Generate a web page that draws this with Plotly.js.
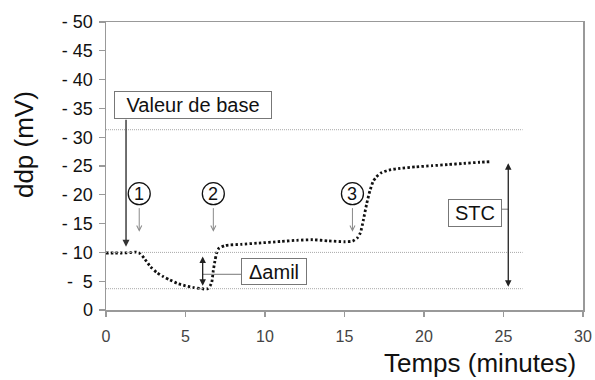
<!DOCTYPE html>
<html>
<head>
<meta charset="utf-8">
<script src="https://cdn.plot.ly/plotly-3.0.1.min.js"></script>
<style>html,body{margin:0;padding:0;background:#fff}#chart{width:595px;height:380px}</style>
</head>
<body>
<div id="chart"></div>
<script>
// ---- data ----
const time = [0, 0.5, 1, 1.5, 1.9, 2.15, 2.4, 2.8, 3.2, 3.6, 4.0, 4.5, 5.0, 5.5, 5.9, 6.15, 6.4, 6.55, 6.65, 6.75, 6.85, 6.95, 7.1, 7.5, 8.5, 9.5, 11, 12, 13, 14, 15, 15.5, 15.8, 16.0, 16.2, 16.4, 16.6, 16.8, 17.0, 17.3, 17.8, 18.5, 19.5, 20.5, 21.5, 22.5, 23.5, 24.2];
const ddp  = [9.9, 9.9, 9.9, 9.95, 10.05, 9.8, 9.0, 7.5, 6.5, 5.8, 5.25, 4.6, 4.2, 3.9, 3.75, 3.65, 3.7, 4.2, 4.8, 6.9, 8.5, 9.8, 10.7, 11.2, 11.4, 11.6, 11.9, 12.1, 12.2, 12.0, 11.85, 11.95, 12.5, 13.4, 15.8, 18.5, 20.7, 22.3, 23.1, 23.8, 24.3, 24.6, 24.85, 25.05, 25.25, 25.45, 25.65, 25.75];
const refLevels = [31.3, 10, 3.7];
const refEnd = 26.2;
const yTickVals = [0, 5, 10, 15, 20, 25, 30, 35, 40, 45, 50];
const yTickText = ['0', '-  5', '- 10', '- 15', '- 20', '- 25', '- 30', '- 35', '- 40', '- 45', '- 50'];
const xTickVals = [0, 5, 10, 15, 20, 25, 30];
const steps = [{label: '1', t: 2.09}, {label: '2', t: 6.75}, {label: '3', t: 15.5}];

const FONT = 'Liberation Sans, Arial, sans-serif';

const trace = {
  x: time, y: ddp, type: 'scatter', mode: 'lines',
  line: {color: '#111', width: 2.8, dash: '2.4px,2.3px', shape: 'spline', smoothing: 0.6},
  hoverinfo: 'skip'
};

const shapes = [];
refLevels.forEach(v => shapes.push({type: 'line', xref: 'x', yref: 'y', x0: 0, x1: refEnd, y0: v, y1: v,
  line: {color: '#a8a8a8', width: 1, dash: '1px,1px'}}));
// circles around step numbers
steps.forEach(s => shapes.push({type: 'circle', xref: 'x', yref: 'y', xsizemode: 'pixel', ysizemode: 'pixel',
  xanchor: s.t, yanchor: 20.2, x0: -11, x1: 11, y0: -11, y1: 11, line: {color: '#111', width: 1.3}}));
// connectors
shapes.push({type: 'line', xref: 'x', yref: 'y', x0: 6.08, x1: 8.53, y0: 6.2, y1: 6.2, line: {color: '#777', width: 1}});
shapes.push({type: 'line', xref: 'x', yref: 'y', x0: 24.89, x1: 25.3, y0: 17.5, y1: 17.5, line: {color: '#777', width: 1}});

const annotations = [];
// titles
annotations.push({xref: 'paper', yref: 'paper', x: 0.9895, y: -0.184, xanchor: 'right', yanchor: 'middle',
  text: 'Temps (minutes)', showarrow: false, font: {family: FONT, size: 26, color: '#111'}});
annotations.push({xref: 'paper', yref: 'paper', x: -0.172, y: 0.576, xanchor: 'center', yanchor: 'middle',
  text: 'ddp (mV)', textangle: -90, showarrow: false, font: {family: FONT, size: 26, color: '#111'}});
// boxes
function box(text, x, y, w, h) {
  return {xref: 'x', yref: 'y', x: x, y: y, xanchor: 'center', yanchor: 'middle', text: text, showarrow: false,
    width: w, height: h, bordercolor: '#777', borderwidth: 1, borderpad: 1, bgcolor: '#fff',
    font: {family: FONT, size: 20, color: '#111'}};
}
annotations.push(box('Valeur de base', 5.49, 35.54, 154, 24));
annotations.push(box('STC', 23.23, 16.9, 50, 24));
annotations.push(box('Δamil', 10.58, 6.74, 62, 23));
// step numbers and gray arrows
steps.forEach(s => {
  annotations.push({xref: 'x', yref: 'y', x: s.t, y: 20.2, text: s.label, showarrow: false,
    xanchor: 'center', yanchor: 'middle', font: {family: FONT, size: 18, color: '#111'}});
  annotations.push({xref: 'x', yref: 'y', axref: 'x', ayref: 'y', x: s.t, y: 13.6, ax: s.t, ay: 17.95, text: '',
    showarrow: true, arrowhead: 5, arrowsize: 1, arrowwidth: 1, arrowcolor: '#8a8a8a'});
});
// Valeur de base arrow
annotations.push({xref: 'x', yref: 'y', axref: 'x', ayref: 'y', x: 1.26, y: 11, ax: 1.26, ay: 33.3, text: '',
  showarrow: true, arrowhead: 2, arrowsize: 1, arrowwidth: 1.4, arrowcolor: '#333'});
// double arrows
annotations.push({xref: 'x', yref: 'y', axref: 'x', ayref: 'y', x: 6.08, y: 4.2, ax: 6.08, ay: 9.55, text: '',
  showarrow: true, arrowside: 'end+start', arrowhead: 2, startarrowhead: 2, arrowsize: 1, startarrowsize: 1,
  arrowwidth: 1.3, arrowcolor: '#222'});
annotations.push({xref: 'x', yref: 'y', axref: 'x', ayref: 'y', x: 25.3, y: 4.05, ax: 25.3, ay: 25.75, text: '',
  showarrow: true, arrowside: 'end+start', arrowhead: 2, startarrowhead: 2, arrowsize: 1, startarrowsize: 1,
  arrowwidth: 1.3, arrowcolor: '#222'});

const layout = {
  width: 595, height: 380,
  margin: {l: 106, r: 12, t: 22, b: 70},
  paper_bgcolor: '#fff', plot_bgcolor: '#fff',
  showlegend: false,
  font: {family: FONT},
  xaxis: {range: [0, 30], tickvals: xTickVals, ticks: 'outside', ticklen: 5, tickwidth: 1.2, tickcolor: '#999',
    showline: true, mirror: true, linecolor: '#999', linewidth: 1.5, showgrid: false, zeroline: false,
    ticklabelstandoff: 6, tickfont: {family: FONT, size: 16, color: '#444'}},
  yaxis: {range: [0, 50], tickvals: yTickVals, ticktext: yTickText, ticks: 'outside', ticklen: 6, tickwidth: 1.2,
    tickcolor: '#999', showline: true, mirror: true, linecolor: '#999', linewidth: 1.5, showgrid: false,
    zeroline: false, ticklabelstandoff: 2, tickfont: {family: FONT, size: 18, color: '#111'}},
  shapes: shapes,
  annotations: annotations
};

Plotly.newPlot('chart', [trace], layout, {staticPlot: true, displayModeBar: false});
</script>
</body>
</html>
